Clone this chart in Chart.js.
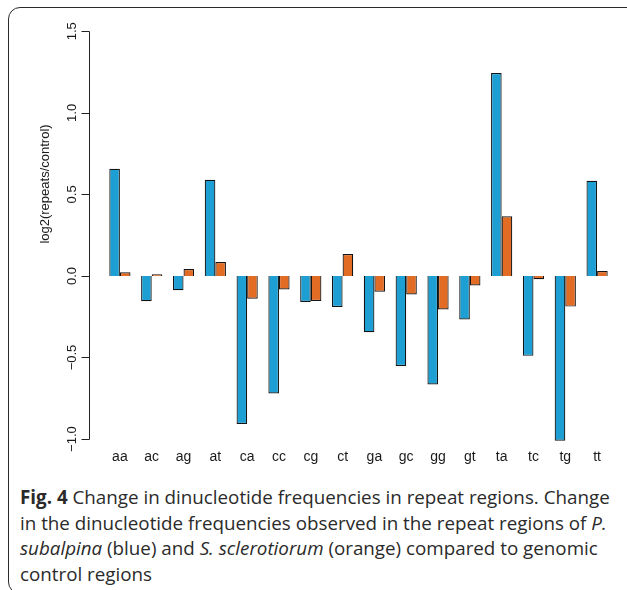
<!DOCTYPE html>
<html>
<head>
<meta charset="utf-8">
<script src="https://cdn.jsdelivr.net/npm/chart.js@4.4.1/dist/chart.umd.min.js"></script>
<style>
body { margin: 0; background: #fff; width: 627px; height: 590px; overflow: hidden; position: relative; }
#frame { position: absolute; left: 8px; top: 7px; width: 660px; height: 585px; border: 1.5px solid #2b2b2b; border-radius: 12px; }
#wrap { position: absolute; left: 0; top: 0; width: 627px; height: 470px; }
#caption { position: absolute; left: 20px; top: 485px; font-family: 'Open Sans', sans-serif; font-size: 18.8px; line-height: 25.5px; color: #2a2a2a; white-space: nowrap; }
#caption b { font-weight: 700; }
</style>
</head>
<body>
<div id="frame"></div>
<div id="wrap"><canvas id="bar-chart" width="627" height="470"></canvas></div>
<div id="caption"><b>Fig. 4</b> Change in dinucleotide frequencies in repeat regions. Change<br>in the dinucleotide frequencies observed in the repeat regions of <i>P.</i><br><i>subalpina</i> (blue) and <i>S. sclerotiorum</i> (orange) compared to genomic<br>control regions</div>
<script>
// values
const dinucleotides = ['aa', 'ac', 'ag', 'at', 'ca', 'cc', 'cg', 'ct', 'ga', 'gc', 'gg', 'gt', 'ta', 'tc', 'tg', 'tt'];
const subalpina = [0.657, -0.155, -0.087, 0.59, -0.907, -0.72, -0.159, -0.19, -0.345, -0.552, -0.665, -0.267, 1.244, -0.49, -1.01, 0.583];
const sclerotiorum = [0.023, 0.01, 0.043, 0.085, -0.14, -0.083, -0.153, 0.134, -0.097, -0.114, -0.205, -0.058, 0.366, -0.02, -0.188, 0.03];
const yTickValues = [-1, -0.5, 0, 0.5, 1, 1.5];
const yTickLabels = ['\u22121.0', '\u22120.5', '0.0', '0.5', '1.0', '1.5'];
const yTitle = 'log2(repeats/control)';

// R-style detached y axis with rotated labels
const rAxis = {
    id: 'rAxis',
    afterDraw(chart) {
        const ctx = chart.ctx;
        const y = chart.scales.y;
        const x0 = chart.chartArea.left - 14.5;
        ctx.save();
        ctx.strokeStyle = '#222';
        ctx.lineWidth = 1;
        ctx.beginPath();
        ctx.moveTo(x0, Math.round(y.getPixelForValue(yTickValues[0])) + 0.5);
        ctx.lineTo(x0, Math.round(y.getPixelForValue(yTickValues[yTickValues.length - 1])) + 0.5);
        yTickValues.forEach(v => {
            const py = Math.round(y.getPixelForValue(v)) + 0.5;
            ctx.moveTo(x0 - 8, py);
            ctx.lineTo(x0, py);
        });
        ctx.stroke();

        ctx.fillStyle = '#1a1a1a';
        ctx.font = '13px "Liberation Sans", Arial, sans-serif';
        ctx.textAlign = 'center';
        ctx.textBaseline = 'middle';
        yTickValues.forEach((v, i) => {
            ctx.save();
            ctx.translate(72, y.getPixelForValue(v));
            ctx.rotate(-Math.PI / 2);
            ctx.fillText(yTickLabels[i], 0, 0);
            ctx.restore();
        });
        ctx.save();
        ctx.font = '13px "Liberation Sans", Arial, sans-serif';
        ctx.translate(45, 184);
        ctx.rotate(-Math.PI / 2);
        ctx.fillText(yTitle, 0, 0);
        ctx.restore();
        ctx.restore();
    }
};

const barChartElem = document.getElementById('bar-chart').getContext('2d');
const barChart = new Chart(barChartElem, {
    type: 'bar',
    data: {
        labels: dinucleotides,
        datasets: [{
            label: 'P. subalpina',
            data: subalpina,
            backgroundColor: '#1d9fd4',
            borderColor: '#141414',
            borderWidth: 1.2
        },
        {
            label: 'S. sclerotiorum',
            data: sclerotiorum,
            backgroundColor: '#e36c25',
            borderColor: '#141414',
            borderWidth: 1.2
        }]
    },
    options: {
        responsive: false,
        animation: false,
        layout: { padding: { left: 104, right: 14, top: 15, bottom: 2 } },
        plugins: { legend: { display: false }, tooltip: { enabled: false } },
        datasets: { bar: { categoryPercentage: 2 / 3, barPercentage: 1 } },
        scales: {
            x: {
                grid: { display: false, drawTicks: false },
                border: { display: false },
                ticks: {
                    padding: 2,
                    color: '#1a1a1a',
                    font: { family: '"Liberation Sans", Arial, sans-serif', size: 14 },
                    maxRotation: 0,
                    autoSkip: false
                }
            },
            y: {
                display: false,
                min: -1.05,
                max: 1.6
            }
        }
    },
    plugins: [rAxis]
});
</script>
</body>
</html>
